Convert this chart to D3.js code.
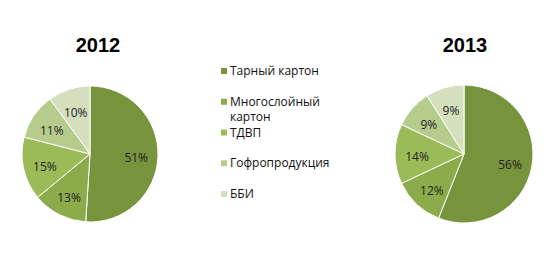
<!DOCTYPE html>
<html>
<head>
<meta charset="utf-8">
<script src="https://cdn.jsdelivr.net/npm/d3@7"></script>
<style>
  html, body { margin: 0; padding: 0; background: #fff; }
  svg { display: block; }
</style>
</head>
<body>
<div id="chart"></div>
<script>
// two pies (2012 / 2013) with a shared legend in the middle
const YEARS = ['2012', '2013'];
const CATEGORIES = ['Тарный картон', 'Многослойный картон', 'ТДВП', 'Гофропродукция', 'ББИ'];
const VALUES_2012 = [51, 13, 15, 11, 10];
const VALUES_2013 = [56, 12, 14, 9, 9];
const COLORS = ['#77933c', '#8cab4b', '#9bbb59', '#b6cc8c', '#d3dfbd'];

const W = 560, H = 278;
const svg = d3.select('#chart').append('svg').attr('width', W).attr('height', H);

const color = d3.scaleOrdinal().domain(CATEGORIES).range(COLORS);
const pie = d3.pie().sort(null).value(d => d.value);

const pies = [
  { year: YEARS[0], values: VALUES_2012, cx: 90, cy: 154, r: 68, tx: 98 },
  { year: YEARS[1], values: VALUES_2013, cx: 464, cy: 154, r: 69, tx: 465 },
];

pies.forEach(p => {
  const data = CATEGORIES.map((c, i) => ({ cat: c, value: p.values[i] }));
  const arc = d3.arc().innerRadius(0).outerRadius(p.r);
  const lblArc = d3.arc().innerRadius(p.r * 0.68).outerRadius(p.r * 0.68);
  const g = svg.append('g').attr('transform', `translate(${p.cx},${p.cy})`);

  const arcs = pie(data);
  g.selectAll('path').data(arcs).join('path')
    .attr('d', arc)
    .attr('fill', d => color(d.data.cat))
    .attr('stroke', '#fff').attr('stroke-width', 1);

  g.selectAll('text').data(arcs).join('text')
    .attr('transform', d => { const [x, y] = lblArc.centroid(d); return `translate(${x},${y + 2})`; })
    .attr('text-anchor', 'middle').attr('dominant-baseline', 'central')
    .style('font-family', '"Open Sans", sans-serif').style('font-size', '12px')
    .attr('fill', '#222')
    .text(d => d.data.value + '%');

  svg.append('text').attr('x', p.tx).attr('y', 52)
    .attr('text-anchor', 'middle')
    .style('font-family', '"Liberation Sans", Arial, sans-serif')
    .style('font-size', '20px').style('font-weight', 'bold')
    .attr('fill', '#000')
    .text(p.year);
});

// legend
const legY = d3.scaleLinear().domain([0, CATEGORIES.length - 1]).range([71, 194]);
const leg = svg.append('g');
CATEGORIES.forEach((c, i) => {
  const y = legY(i);
  leg.append('rect').attr('x', 221).attr('y', y - 3).attr('width', 6).attr('height', 6)
    .attr('fill', color(c));
  const t = leg.append('text').attr('x', 230).attr('y', y + 4)
    .style('font-family', '"Open Sans", sans-serif').style('font-size', '12px')
    .attr('fill', '#111');
  const words = c === 'Многослойный картон' ? ['Многослойный', 'картон'] : [c];
  words.forEach((w, k) => t.append('tspan').attr('x', 230).attr('dy', k ? 15 : 0).text(w));
});
</script>
</body>
</html>
